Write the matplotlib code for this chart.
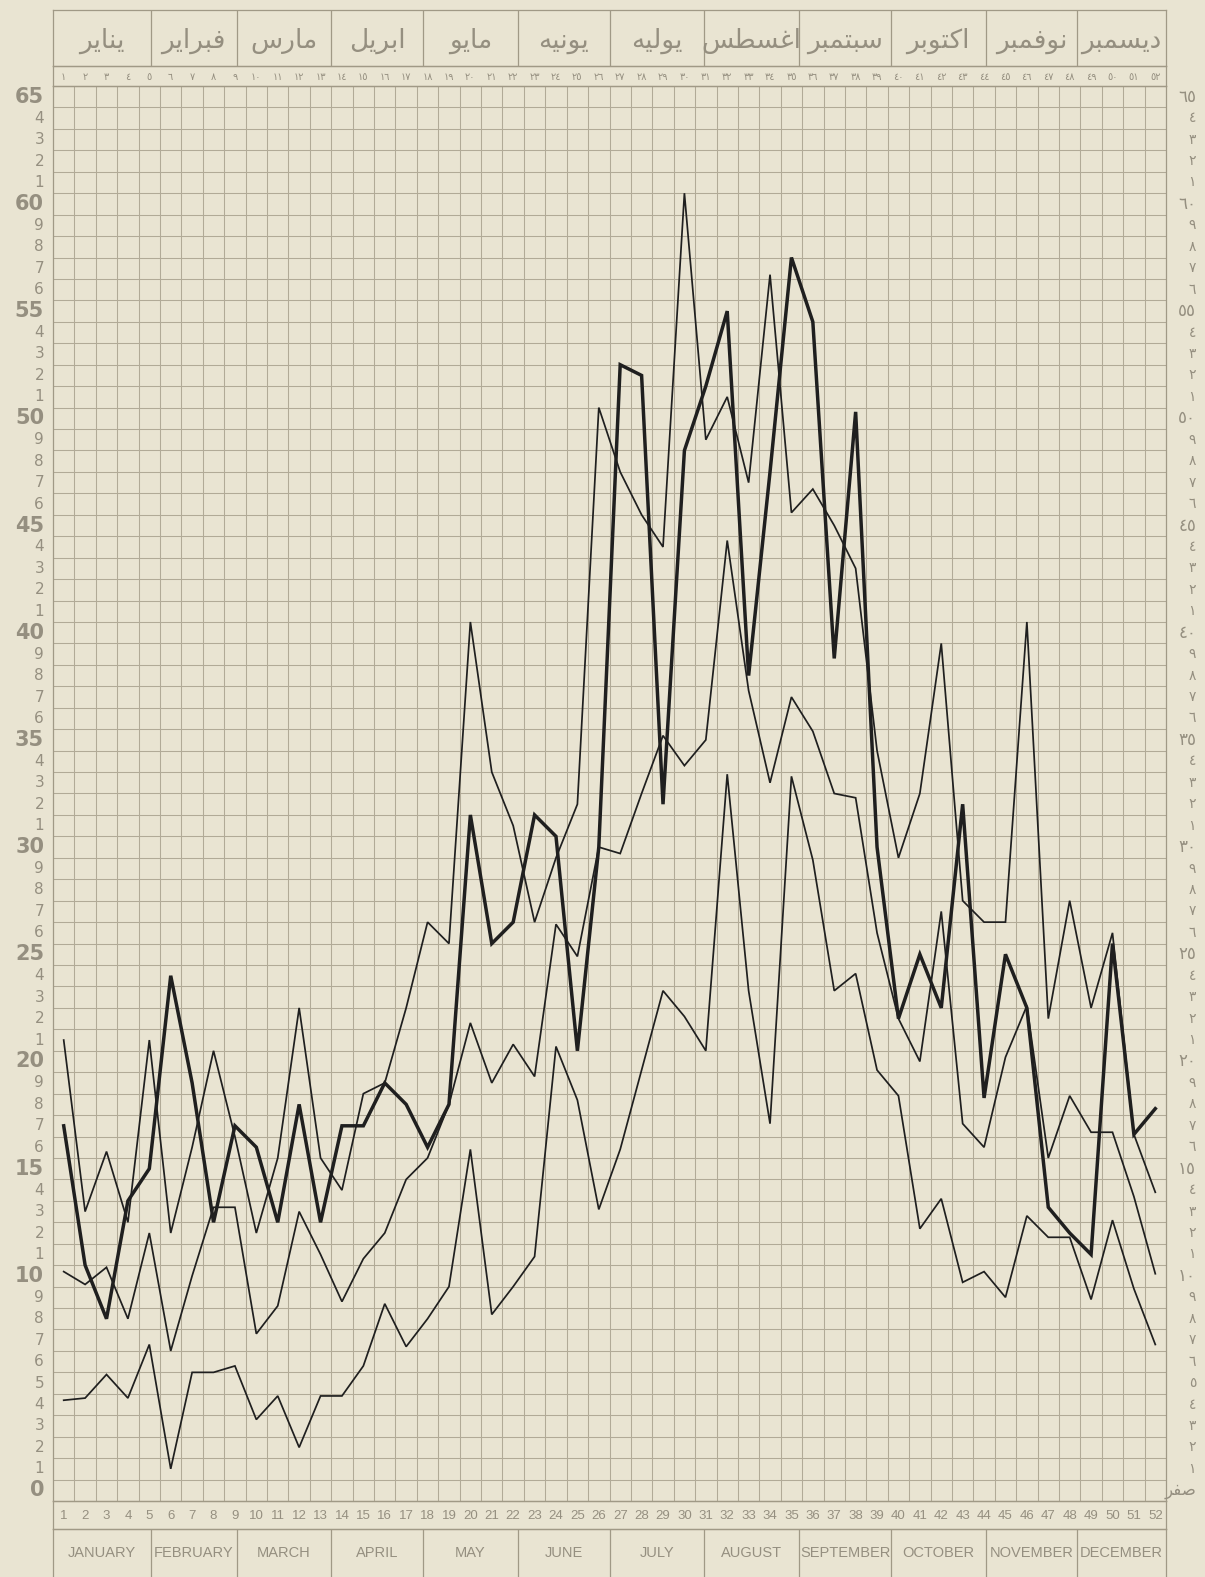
import numpy as np
import matplotlib
matplotlib.use("Agg")
import matplotlib.pyplot as plt
from matplotlib.transforms import blended_transform_factory

# ---- data (one value per week) ----
weeks = np.arange(1, 53)

heavy = [17, 10.5, 8, 13.5, 15, 24, 19, 12.5, 17, 16, 12.5, 18, 12.5, 17, 17, 19, 18, 16, 18,
         31.5, 25.5, 26.5, 31.5, 30.5, 20.5, 30, 52.5, 52, 32, 48.5, 51.5, 55, 38, 47.5, 57.5,
         54.5, 38.8, 50.3, 30, 22, 25, 22.5, 32, 18.3, 25, 22.5, 13.2, 12, 11, 25.5, 16.6, 17.8]

thin_a = [21, 13, 15.8, 12.5, 21, 12, 16, 20.5, 16.5, 12, 15.5, 22.5, 15.5, 14, 18.5, 19, 22.5,
          26.5, 25.5, 40.5, 33.5, 31, 26.5, 29.5, 32, 50.5, 47.5, 45.5, 44, 60.5, 49, 51, 47,
          56.7, 45.6, 46.7, 45, 43, 34.5, 29.5, 32.5, 39.5, 27.5, 26.5, 26.5, 40.5, 22, 27.5,
          22.5, 26, 16.6, 13.9]

thin_b = [10.2, 9.6, 10.4, 8, 12, 6.5, 10, 13.2, 13.2, 7.3, 8.6, 13, 11, 8.8, 10.8, 12, 14.5,
          15.5, 18, 21.8, 19, 20.8, 19.3, 26.4, 24.9, 30, 29.7, 32.5, 35.2, 33.8, 35, 44.3, 37.3,
          33, 37, 35.4, 32.5, 32.3, 26, 22, 20, 27, 17.1, 16, 20.2, 22.6, 15.5, 18.4, 16.7, 16.7,
          13.7, 10.1]

thin_c = [4.2, 4.3, 5.4, 4.3, 6.8, 1.0, 5.5, 5.5, 5.8, 3.3, 4.4, 2.0, 4.4, 4.4, 5.8, 8.7, 6.7,
          8.0, 9.5, 15.9, 8.2, 9.5, 10.9, 20.7, 18.2, 13.1, 15.9, 19.6, 23.3, 22.1, 20.5, 33.4,
          23.3, 17.1, 33.3, 29.4, 23.3, 24.1, 19.6, 18.4, 12.2, 13.6, 9.7, 10.2, 9.0, 12.8, 11.8,
          11.8, 8.9, 12.6, 9.4, 6.8]

months_en = ["JANUARY", "FEBRUARY", "MARCH", "APRIL", "MAY", "JUNE", "JULY", "AUGUST",
             "SEPTEMBER", "OCTOBER", "NOVEMBER", "DECEMBER"]
months_ar = ["يناير", "فبراير", "مارس", "ابريل", "مايو", "يونيه", "يوليه", "اغسطس",
             "سبتمبر", "اكتوبر", "نوفمبر", "ديسمبر"]
month_days = [31, 28, 31, 30, 31, 30, 31, 31, 30, 31, 30, 31]
zero_ar = "صفر"

# ---- styling ----
PAPER = "#e9e4d2"
GRID = "#b1aa97"
FRAME = "#a09986"
TEXT = "#958f80"
INK = "#1f1f1f"
NARROW = ["Liberation Sans Narrow", "Liberation Sans", "DejaVu Sans"]

AR_DIGITS = "٠١٢٣٤٥٦٧٨٩"


def ar_num(n):
    return "".join(AR_DIGITS[int(d)] for d in str(n))


# presentation forms: isolated, final, initial, medial
FORMS = {
    "ا": ("\ufe8d", "\ufe8e"), "د": ("\ufea9", "\ufeaa"), "ر": ("\ufead", "\ufeae"),
    "و": ("\ufeed", "\ufeee"),
    "ب": ("\ufe8f", "\ufe90", "\ufe91", "\ufe92"), "ت": ("\ufe95", "\ufe96", "\ufe97", "\ufe98"),
    "س": ("\ufeb1", "\ufeb2", "\ufeb3", "\ufeb4"), "ص": ("\ufeb9", "\ufeba", "\ufebb", "\ufebc"),
    "ط": ("\ufec1", "\ufec2", "\ufec3", "\ufec4"), "غ": ("\ufecd", "\ufece", "\ufecf", "\ufed0"),
    "ف": ("\ufed1", "\ufed2", "\ufed3", "\ufed4"), "ك": ("\ufed9", "\ufeda", "\ufedb", "\ufedc"),
    "ل": ("\ufedd", "\ufede", "\ufedf", "\ufee0"), "م": ("\ufee1", "\ufee2", "\ufee3", "\ufee4"),
    "ن": ("\ufee5", "\ufee6", "\ufee7", "\ufee8"), "ه": ("\ufee9", "\ufeea", "\ufeeb", "\ufeec"),
    "ي": ("\ufef1", "\ufef2", "\ufef3", "\ufef4"),
}


def shape(word):
    # minimal arabic shaping + visual (right to left) order
    out = []
    for i, ch in enumerate(word):
        f = FORMS[ch]
        prev = i > 0 and len(FORMS[word[i - 1]]) == 4
        nxt = i < len(word) - 1 and len(f) == 4
        if prev and nxt:
            out.append(f[3])
        elif prev:
            out.append(f[1])
        elif nxt:
            out.append(f[2])
        else:
            out.append(f[0])
    return "".join(reversed(out))


W, H = 1205, 1577
fig = plt.figure(figsize=(W / 100, H / 100), dpi=100, facecolor=PAPER)


def px_axes(x0, y0, x1, y1):
    a = fig.add_axes([x0 / W, 1 - y1 / H, (x1 - x0) / W, (y1 - y0) / H])
    a.set_facecolor("none")
    a.set_xlim(0.5, 52.5)
    a.set_xticks([])
    a.set_yticks([])
    for s in a.spines.values():
        s.set_color(FRAME)
        s.set_linewidth(0.9)
    return a


GX0, GX1, GY0, GY1 = 53, 1166, 86, 1501

# month edges in week-column units
edges = 0.5 + np.cumsum([0] + month_days) / 7.0 + 0.15
edges[0], edges[-1] = 0.5, 52.5

# ---- main grid ----
ax = px_axes(GX0, GY0, GX1, GY1)
ax.set_ylim(-0.5, 65.5)
for x in np.arange(1.5, 52.5):
    ax.axvline(x, color=GRID, lw=0.75, zorder=1)
for y in np.arange(0.5, 65.5):
    ax.axhline(y, color=GRID, lw=0.75, zorder=1)

ax.plot(weeks, thin_c, color=INK, lw=1.25, solid_joinstyle="miter", zorder=3)
ax.plot(weeks, thin_b, color=INK, lw=1.25, solid_joinstyle="miter", zorder=3)
ax.plot(weeks, thin_a, color=INK, lw=1.25, solid_joinstyle="miter", zorder=3)
ax.plot(weeks, heavy, color=INK, lw=2.5, solid_joinstyle="miter", zorder=4)

tr = blended_transform_factory(ax.transAxes, ax.transData)
for v in range(0, 66):
    big = v % 5 == 0 and v != 5
    lab = str(v) if big else str(v % 10)
    ax.text(-0.008, v, lab, transform=tr, ha="right", va="center",
            fontsize=15 if big else 11, color=TEXT,
            fontweight="semibold" if big else "normal")
    if v == 0:
        rlab = shape(zero_ar)
    else:
        rlab = ar_num(v) if big else ar_num(v % 10)
    ax.text(1.027, v, rlab, transform=tr, ha="right", va="center",
            fontsize=12 if big else 10, color=TEXT, family="DejaVu Sans")

# ---- top header: arabic months and week numbers ----
top_m = px_axes(GX0, 10, GX1, 66)
top_m.set_ylim(0, 1)
for e in edges[1:-1]:
    top_m.axvline(e, color=FRAME, lw=0.9)
for i, name in enumerate(months_ar):
    top_m.text((edges[i] + edges[i + 1]) / 2, 0.45, shape(name), ha="center", va="center",
               fontsize=19, color=TEXT, family="DejaVu Sans")

top_n = px_axes(GX0, 66, GX1, 86)
top_n.set_ylim(0, 1)
for w in weeks:
    top_n.text(w, 0.45, ar_num(w), ha="center", va="center", fontsize=7, color=TEXT)

# ---- bottom: week numbers and english months ----
bot_n = px_axes(GX0, 1501, GX1, 1529)
bot_n.set_ylim(0, 1)
for w in weeks:
    bot_n.text(w, 0.45, str(w), ha="center", va="center", fontsize=9.5, color=TEXT,
               family=NARROW)

bot_m = px_axes(GX0, 1529, GX1, 1590)
bot_m.set_ylim(0, 1)
for e in edges[1:-1]:
    bot_m.axvline(e, color=FRAME, lw=0.9)
for i, name in enumerate(months_en):
    bot_m.text((edges[i] + edges[i + 1]) / 2, 0.6, name, ha="center", va="center",
               fontsize=10.5, color=TEXT, family=NARROW)

fig.savefig("out.png", dpi=100, facecolor=PAPER)
